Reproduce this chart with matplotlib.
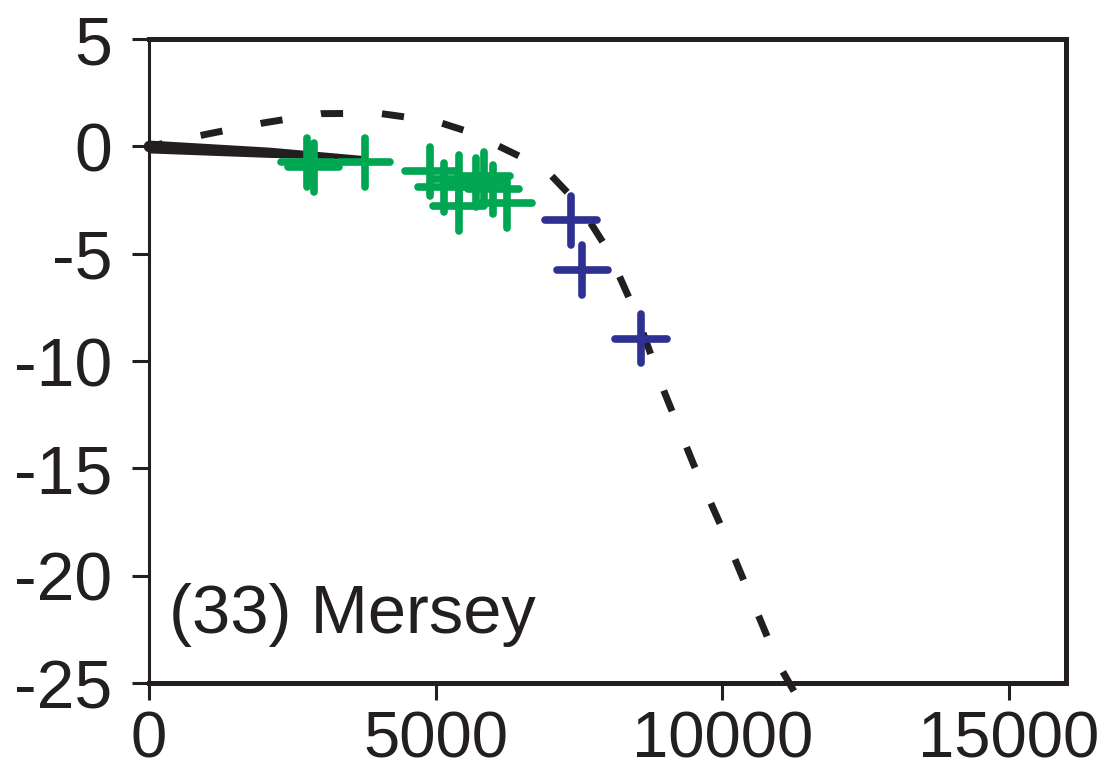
import matplotlib
matplotlib.use('Agg')
import matplotlib.pyplot as plt
import numpy as np

# Relative sea level (m) against age (cal yr BP), site (33) Mersey
age_green = [2760, 2870, 3760, 4910, 5140, 5400, 5400, 5700, 5840, 6010, 6240]
rsl_green = [-0.74, -0.97, -0.74, -1.16, -1.90, -1.53, -2.79, -1.67, -1.39, -2.00, -2.65]
age_blue = [7360, 7560, 8580]
rsl_blue = [-3.44, -5.76, -8.95]
age_err = 450
rsl_err = 1.15

# late Holocene trend band (centre and half-width)
trend_age = [0, 2100, 3700]
trend_rsl = [0, -0.27, -0.5]
trend_half = [0.3, 0.24, 0.09]

# model prediction
model_age = [0, 1000, 2000, 3000, 4000, 5000, 5500, 6000, 6500, 7000, 7500,
             8000, 8500, 9000, 9500, 10000, 10500, 11000, 11300]
model_rsl = [0, 0.57, 1.1, 1.53, 1.55, 1.18, 0.75, 0.15, -0.5, -1.3, -2.7,
             -4.8, -7.8, -11.5, -14.8, -17.8, -21.0, -24.2, -25.6]

x_ticks = [0, 5000, 10000, 15000]
y_ticks = [5, 0, -5, -10, -15, -20, -25]

ink = '#231F20'
green = '#00A651'
blue = '#2E3192'

plt.rcParams['font.family'] = ['Liberation Sans', 'DejaVu Sans']

fig = plt.figure(figsize=(11.08, 7.76), dpi=100)
ax = fig.add_axes([0.1345, 0.1198, 0.8276, 0.8297])

# model curve, dashed
ax.plot(model_age, model_rsl, color=ink, lw=5,
        linestyle=(1.2, (3.2, 5.6)), dash_capstyle='butt',
        clip_on=False, zorder=2)

# tapered trend band
t_age = np.array(trend_age)
t_rsl = np.array(trend_rsl)
t_half = np.array(trend_half)
ax.fill_between(t_age, t_rsl - t_half, t_rsl + t_half, color=ink, lw=0, zorder=3)
ax.scatter([trend_age[0]], [trend_rsl[0]], s=70, color=ink, lw=0, zorder=3,
           clip_on=False)

# index points as age/height crosses
for ages, rsl, col in [(age_green, rsl_green, green), (age_blue, rsl_blue, blue)]:
    eb = ax.errorbar(ages, rsl, xerr=age_err, yerr=rsl_err, fmt='none',
                     ecolor=col, elinewidth=5.5, capsize=0, zorder=4)
    for lc in eb[2]:
        lc.set_capstyle('round')

ax.text(0.022, 0.078, '(33) Mersey', transform=ax.transAxes, fontsize=49.5,
        color=ink, ha='left', va='baseline')

ax.set_xlim(0, 16000)
ax.set_ylim(-25, 5)
ax.set_xticks(x_ticks)
ax.set_yticks(y_ticks)
ax.set_xticklabels([str(v) for v in x_ticks])
ax.set_yticklabels([str(v) for v in y_ticks])

for side in ['top', 'right', 'bottom']:
    ax.spines[side].set_linewidth(3.6)
    ax.spines[side].set_color(ink)
ax.spines['left'].set_linewidth(2.2)
ax.spines['left'].set_color(ink)

ax.tick_params(axis='both', direction='out', length=12.5, width=2.2,
               color=ink, labelcolor=ink, labelsize=49)
ax.tick_params(axis='x', pad=7, top=False, labelsize=47)
ax.tick_params(axis='y', pad=14, right=False)

fig.savefig('out.png', dpi=100)
